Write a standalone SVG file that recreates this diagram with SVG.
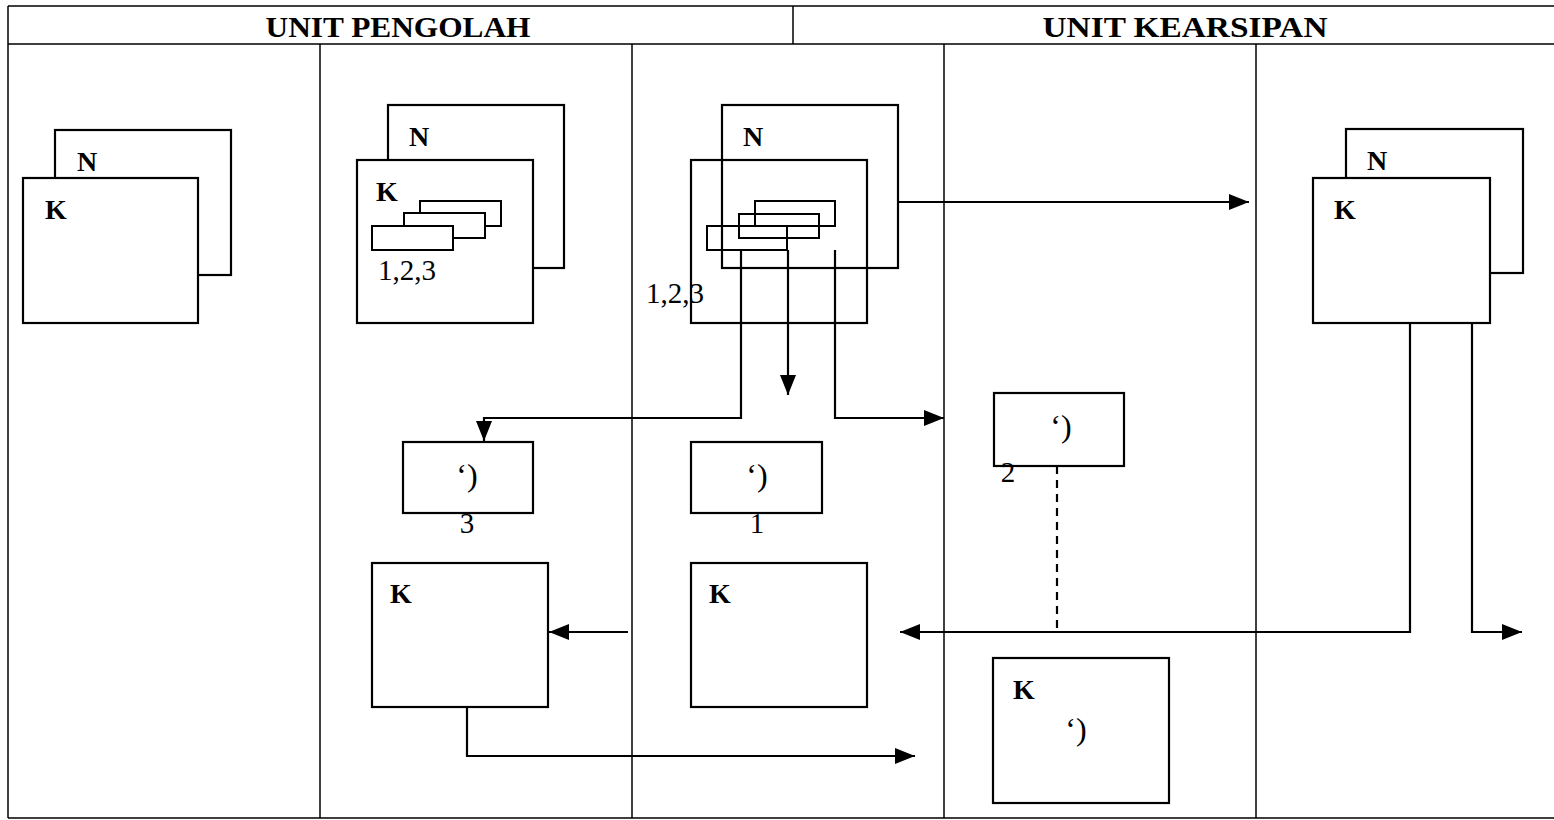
<svg xmlns="http://www.w3.org/2000/svg" width="1554" height="820" viewBox="0 0 1554 820">
<style>
.grid{stroke:#000;stroke-width:1.5;fill:none}
.box{stroke:#000;stroke-width:2.2;fill:#fff}
.boxo{stroke:#000;stroke-width:2.2;fill:none}
.sm{stroke:#000;stroke-width:2;fill:#fff}
.smo{stroke:#000;stroke-width:2;fill:none}
.ln{stroke:#000;stroke-width:2.2;fill:none}
.dash{stroke:#000;stroke-width:2.2;fill:none;stroke-dasharray:8 6}
.hd{font-family:"Liberation Serif","Times New Roman",serif;font-weight:bold;font-size:30px;text-anchor:middle}
.lb{font-family:"Liberation Serif","Times New Roman",serif;font-weight:bold;font-size:28px}
.tx{font-family:"Liberation Serif","Times New Roman",serif;font-size:29px}
.q{font-family:"Liberation Serif","Times New Roman",serif;font-size:32px;text-anchor:middle}
</style>
<defs>
<marker id="ah" markerUnits="userSpaceOnUse" markerWidth="22" markerHeight="18" refX="20" refY="8" orient="auto">
<path d="M0,0 L20,8 L0,16 z" fill="#000"/>
</marker>
</defs>
<rect width="1554" height="820" fill="#fff"/>
<g id="table">
<path class="grid" d="M8,6 H1554 M8,44 H1554 M8,818 H1554 M8,6 V818 M793,6 V44 M320,44 V818 M632,44 V818 M944,44 V818 M1256,44 V818"/>
<text class="hd" x="398" y="37" textLength="265" lengthAdjust="spacingAndGlyphs">UNIT PENGOLAH</text>
<text class="hd" x="1185" y="37" textLength="285" lengthAdjust="spacingAndGlyphs">UNIT KEARSIPAN</text>
</g>
<g id="doc1">
<rect class="box" x="55" y="130" width="176" height="145"/>
<text class="lb" x="77" y="171">N</text>
<rect class="box" x="23" y="178" width="175" height="145"/>
<text class="lb" x="45" y="219">K</text>
</g>
<g id="doc2">
<rect class="box" x="388" y="105" width="176" height="163"/>
<text class="lb" x="409" y="146">N</text>
<rect class="box" x="357" y="160" width="176" height="163"/>
<text class="lb" x="376" y="201">K</text>
<rect class="sm" x="420" y="201" width="81" height="25"/>
<rect class="sm" x="404" y="213" width="81" height="25"/>
<rect class="sm" x="372" y="226" width="81" height="24"/>
<text class="tx" x="378" y="280">1,2,3</text>
</g>
<g id="doc3">
<rect class="boxo" x="722" y="105" width="176" height="163"/>
<text class="lb" x="743" y="146">N</text>
<rect class="boxo" x="691" y="160" width="176" height="163"/>
<rect class="smo" x="755" y="201" width="80" height="25"/>
<rect class="smo" x="739" y="214" width="80" height="24"/>
<rect class="smo" x="707" y="226" width="80" height="24"/>
<text class="tx" x="646" y="303">1,2,3</text>
</g>
<g id="doc5">
<rect class="box" x="1346" y="129" width="177" height="144"/>
<text class="lb" x="1367" y="170">N</text>
<rect class="box" x="1313" y="178" width="177" height="145"/>
<text class="lb" x="1334" y="219">K</text>
</g>
<g id="copy3">
<rect class="box" x="403" y="442" width="130" height="71"/>
<text class="q" x="467" y="486">‘)</text>
<text class="tx" x="467" y="533" text-anchor="middle">3</text>
</g>
<g id="copy1">
<rect class="box" x="691" y="442" width="131" height="71"/>
<text class="q" x="757" y="486">‘)</text>
<text class="tx" x="757" y="533" text-anchor="middle">1</text>
</g>
<g id="copy2">
<rect class="box" x="994" y="393" width="130" height="73"/>
<text class="q" x="1061" y="437">‘)</text>
<text class="tx" x="1008" y="482" text-anchor="middle">2</text>
</g>
<g id="k2">
<rect class="box" x="372" y="563" width="176" height="144"/>
<text class="lb" x="390" y="603">K</text>
</g>
<g id="k3">
<rect class="box" x="691" y="563" width="176" height="144"/>
<text class="lb" x="709" y="603">K</text>
</g>
<g id="k4">
<rect class="box" x="993" y="658" width="176" height="145"/>
<text class="lb" x="1013" y="699">K</text>
<text class="q" x="1076" y="740">‘)</text>
</g>
<g id="connectors">
<path class="ln" d="M898,202 H1249" marker-end="url(#ah)"/>
<path class="ln" d="M741,250 V418 H484 V441" marker-end="url(#ah)"/>
<path class="ln" d="M788,250 V395" marker-end="url(#ah)"/>
<path class="ln" d="M835,250 V418 H944" marker-end="url(#ah)"/>
<path class="dash" d="M1057,466 V632"/>
<path class="ln" d="M1410,323 V632 H900" marker-end="url(#ah)"/>
<path class="ln" d="M1472,323 V632 H1522" marker-end="url(#ah)"/>
<path class="ln" d="M628,632 H549" marker-end="url(#ah)"/>
<path class="ln" d="M467,707 V756 H915" marker-end="url(#ah)"/>
</g>
</svg>
